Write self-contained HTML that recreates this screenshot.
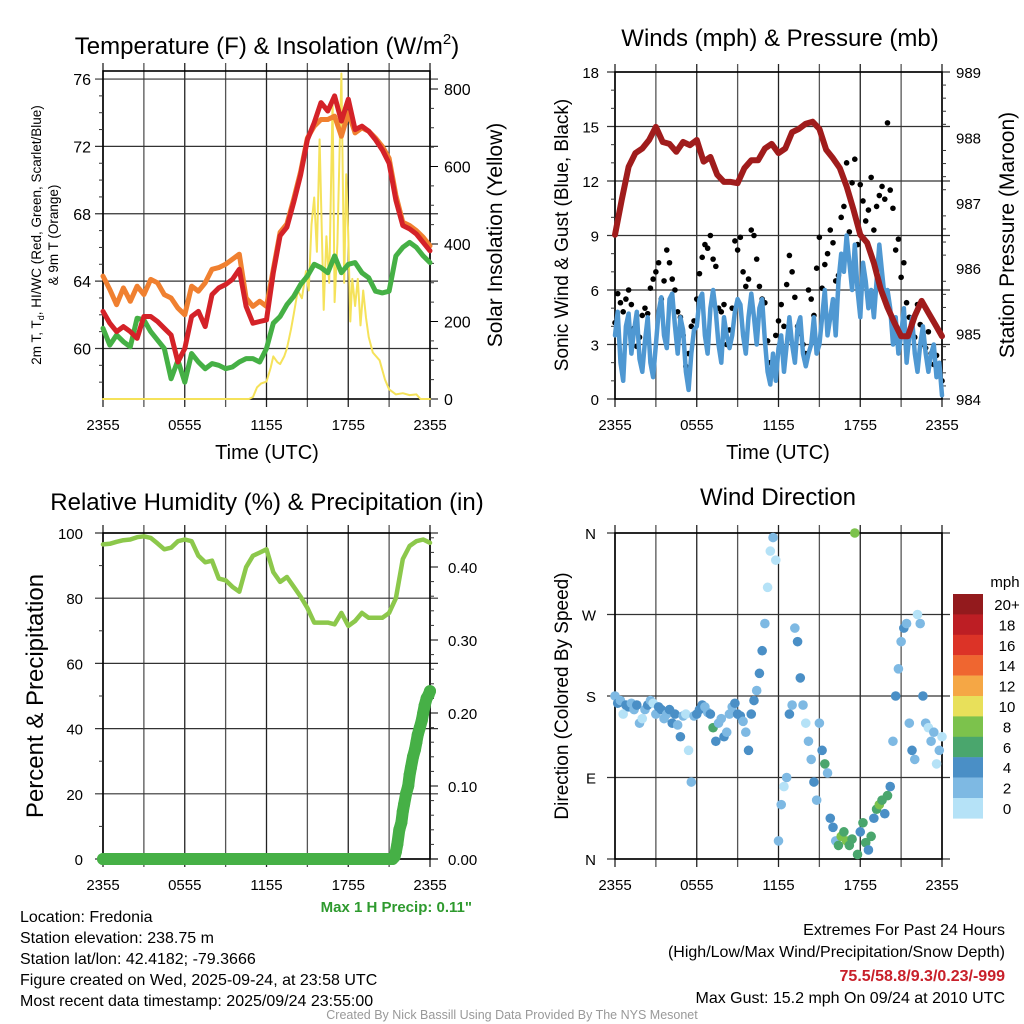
<!DOCTYPE html>
<html><head><meta charset="utf-8"><style>
html,body{margin:0;padding:0;background:#fff;}
svg{display:block;font-family:"Liberation Sans",sans-serif;}
.n{font-family:"Liberation Sans Narrow","Liberation Sans",sans-serif;}
</style></head><body>
<svg id="c" width="1024" height="1024" viewBox="0 0 1024 1024" xmlns="http://www.w3.org/2000/svg">
<g id="layer"></g>
<text x="267" y="54" font-size="24" text-anchor="middle">Temperature (F) &amp; Insolation (W/m<tspan font-size="15" dy="-10">2</tspan><tspan dy="10">)</tspan></text>
<text x="780" y="46" font-size="24" text-anchor="middle">Winds (mph) &amp; Pressure (mb)</text>
<text x="267" y="510" font-size="24" text-anchor="middle">Relative Humidity (%) &amp; Precipitation (in)</text>
<text x="778" y="505" font-size="24" text-anchor="middle">Wind Direction</text>
<text x="267" y="459" font-size="20" text-anchor="middle">Time (UTC)</text>
<text x="778" y="459" font-size="20" text-anchor="middle">Time (UTC)</text>
<text transform="translate(41,235) rotate(-90)" font-size="13.5" text-anchor="middle">2m T, T<tspan font-size="9" dy="3">d</tspan><tspan dy="-3">, HI/WC (Red, Green, Scarlet/Blue)</tspan></text>
<text transform="translate(58,235) rotate(-90)" font-size="13.5" text-anchor="middle">&amp; 9m T (Orange)</text>
<text transform="translate(502,235) rotate(-90)" font-size="21" text-anchor="middle">Solar Insolation (Yellow)</text>
<text transform="translate(568,235) rotate(-90)" font-size="19" text-anchor="middle">Sonic Wind &amp; Gust (Blue, Black)</text>
<text transform="translate(1014,235) rotate(-90)" font-size="21" text-anchor="middle">Station Pressure (Maroon)</text>
<text transform="translate(43,696) rotate(-90)" font-size="24" text-anchor="middle">Percent &amp; Precipitation</text>
<text transform="translate(568,696) rotate(-90)" font-size="19" text-anchor="middle">Direction (Colored By Speed)</text>
<text class="n" x="472" y="912" font-size="15" font-weight="bold" fill="#2e9a2e" text-anchor="end">Max 1 H Precip: 0.11"</text>
<g class="n" font-size="16">
<text x="20" y="922">Location: Fredonia</text>
<text x="20" y="943">Station elevation: 238.75 m</text>
<text x="20" y="964">Station lat/lon: 42.4182; -79.3666</text>
<text x="20" y="985">Figure created on Wed, 2025-09-24, at 23:58 UTC</text>
<text x="20" y="1006">Most recent data timestamp: 2025/09/24 23:55:00</text>
</g>
<g class="n" font-size="16" text-anchor="end">
<text x="1005" y="935">Extremes For Past 24 Hours</text>
<text x="1005" y="957">(High/Low/Max Wind/Precipitation/Snow Depth)</text>
<text x="1005" y="981" font-weight="bold" fill="#c8202a">75.5/58.8/9.3/0.23/-999</text>
<text x="1005" y="1003">Max Gust: 15.2 mph On 09/24 at 2010 UTC</text>
</g>
<text class="n" x="512" y="1019" font-size="12.5" fill="#999" text-anchor="middle">Created By Nick Bassill Using Data Provided By The NYS Mesonet</text>
</svg>
<script>
// ---- data ----
const xLabels = ["2355","0555","1155","1755","2355"];
const tempT = [62.2,61.5,61.0,61.3,61.0,60.6,61.9,61.9,61.6,61.2,60.8,59.2,60.0,61.9,62.2,61.3,63.2,63.6,63.8,64.1,64.7,62.5,61.5,61.6,61.7,64.5,66.7,67.2,68.7,70.3,72.4,73.4,74.6,74.1,75.0,73.5,74.8,73.0,73.2,72.9,72.4,71.8,71.0,68.8,67.3,67.1,66.8,66.3,65.8];
const temp9m = [64.3,63.5,62.6,63.6,62.8,63.7,63.2,64.1,63.9,63.2,63.0,62.4,62.0,63.7,63.4,63.9,64.7,64.8,65.0,65.3,65.6,63.0,62.5,62.8,62.5,64.7,66.9,67.4,68.9,70.5,72.5,73.2,73.6,73.6,73.8,72.6,74.0,72.8,73.1,72.9,72.5,72.0,71.3,69.1,67.5,67.3,67.0,66.6,66.1];
const dewT = [61.2,60.2,60.8,60.4,60.1,61.8,61.7,61.0,60.5,60.0,58.2,59.3,58.0,59.7,59.2,58.8,59.1,59.0,58.8,58.9,59.2,59.4,59.4,59.2,60.0,61.5,61.9,62.6,63.1,63.8,64.3,65.0,64.8,64.5,65.5,64.5,65.0,65.1,64.5,64.2,63.4,63.3,63.4,65.5,66.0,66.3,66.0,65.5,65.1];
const insolT = [0,10.7,11.0,11.3,11.6,12.0,12.3,12.5,12.8,13.0,13.3,13.5,13.8,14.0,14.3,14.6,14.9,15.1,15.3,15.5,15.7,15.9,16.2,16.4,16.6,16.85,17.0,17.2,17.5,17.7,17.85,18.0,18.15,18.3,18.5,18.7,18.9,19.1,19.3,19.5,19.8,20.3,20.7,21.0,21.5,22.0,22.5,23.0,23.3,24];
const insol = [0,0,5,30,40,45,80,110,95,90,110,130,180,220,280,260,330,280,450,520,380,670,230,420,300,770,250,400,840,300,580,420,200,310,240,310,190,280,210,160,120,100,50,25,12,15,10,12,0,0];
const pressure = [986.51,987.05,987.55,987.76,987.83,987.96,988.16,987.93,987.9,987.78,987.93,987.88,987.96,987.63,987.7,987.43,987.32,987.32,987.3,987.53,987.65,987.65,987.83,987.9,987.76,987.83,988.08,988.13,988.21,988.24,988.13,987.81,987.68,987.53,987.25,986.9,986.51,986.39,986.08,985.68,985.4,985.17,984.96,984.96,985.27,985.5,985.32,985.14,984.96];
const wind = [3.5,4.8,2.0,1.0,4.0,4.7,2.5,3.8,4.8,2.2,1.5,3.2,4.5,2.0,1.2,3.0,4.8,5.6,3.5,2.8,5.5,5.8,4.0,2.5,4.5,3.8,1.5,0.5,2.5,3.8,4.0,5.5,5.8,3.5,2.5,5.0,6.0,4.8,3.0,2.0,4.5,3.5,2.8,3.5,4.8,5.5,5.2,3.5,2.5,4.5,5.8,4.5,3.0,5.0,5.5,3.2,1.5,0.8,2.5,1.0,2.8,3.5,1.5,3.0,4.5,3.0,2.0,4.0,4.5,2.5,1.8,2.5,3.0,4.5,2.5,3.0,4.5,6.0,3.5,4.5,5.5,3.5,6.5,8.0,7.0,9.0,7.5,6.0,8.5,6.0,4.5,7.5,6.5,5.0,6.0,4.5,6.5,8.5,7.0,5.5,6.0,5.0,3.0,4.5,2.5,3.5,5.0,2.0,3.5,4.5,2.5,1.5,3.0,4.0,2.5,1.5,2.5,3.0,1.2,2.0,0.2];
const gust = [4.2,5.8,5.3,4.8,5.5,6.0,5.2,3.9,2.9,3.4,4.6,5.0,4.7,6.1,6.6,7.0,7.5,5.5,6.5,8.2,7.5,6.6,6.0,4.8,4.5,3.5,1.8,2.5,4.0,4.3,5.5,6.9,7.8,8.5,8.3,9.0,7.7,7.3,5.0,4.8,5.2,3.0,3.8,5.0,8.7,8.2,8.9,7.0,6.2,6.6,9.3,9.0,7.7,6.2,5.5,5.3,3.2,2.0,1.7,3.5,4.3,5.2,4.0,6.3,7.9,7.0,5.6,4.0,3.6,3.0,2.5,6.0,5.5,4.6,7.2,8.9,6.1,7.4,8.0,9.3,8.6,6.5,6.8,10.0,10.6,13.0,9.2,11.9,13.2,8.5,11.8,10.9,9.8,10.4,12.2,9.3,10.6,11.2,11.7,11.0,15.2,11.5,10.5,8.2,8.8,6.7,7.5,5.3,4.5,4.2,3.4,5.2,4.1,3.0,2.8,3.7,2.5,1.9,2.4,1.4,1.0];
const direction = [180,172,175,160,170,168,172,165,170,150,155,165,170,175,172,160,168,165,155,160,165,150,160,148,135,158,160,120,85,158,160,165,170,168,162,160,145,130,150,155,135,140,160,168,172,160,158,152,140,120,160,175,186,205,230,260,300,340,355,330,20,60,80,90,160,170,255,240,200,170,150,130,110,85,65,150,120,105,95,45,35,20,15,25,30,20,15,22,360,5,30,40,18,10,25,45,55,60,65,50,70,80,130,180,210,240,255,260,150,120,110,270,260,180,150,145,130,140,105,120,135];
const rh = [96.5,96.7,97.3,97.8,98.0,98.7,99.0,98.5,96.8,95.0,95.5,97.5,98.0,97.5,93.0,91.0,91.5,86.0,85.5,83.5,82.0,89.5,93.0,94.0,95.0,88.0,85.0,86.5,83.5,80.5,77.0,72.5,72.5,72.5,72.0,75.5,71.5,73.0,75.5,74.0,74.0,74.0,75.5,80.0,92.0,96.0,97.5,98.0,97.0];
const precipT = [0,0.5,1,1.5,2,2.5,3,3.5,4,4.5,5,5.5,6,6.5,7,7.5,8,8.5,9,9.5,10,10.5,11,11.5,12,12.5,13,13.5,14,14.5,15,15.5,16,16.5,17,17.5,18,18.5,19,19.5,20,20.5,21,21.25,21.4,21.5,21.6,21.75,21.9,22.0,22.1,22.25,22.4,22.5,22.6,22.75,22.9,23.0,23.1,23.25,23.4,23.5,23.6,23.75,23.9,24.0];
const precip = [0,0,0,0,0,0,0,0,0,0,0,0,0,0,0,0,0,0,0,0,0,0,0,0,0,0,0,0,0,0,0,0,0,0,0,0,0,0,0,0,0,0,0,0,0.003,0.01,0.02,0.04,0.05,0.065,0.075,0.09,0.10,0.115,0.125,0.14,0.15,0.16,0.17,0.18,0.19,0.20,0.21,0.22,0.225,0.23];
const cbLabels = ["20+","18","16","14","12","10","8","6","4","2","0"];
const cbColors = ["#931a1d","#bd1e24","#dc3327","#ef6630","#f5a745","#e8e05a","#7cc24c","#4aa66d","#4a8fc6","#7eb9e3","#b5e2f7"];
// ---- helpers ----
const NS="http://www.w3.org/2000/svg";
const layer=document.getElementById('layer');
function mk(tag,attrs,parent){const e=document.createElementNS(NS,tag);for(const k in attrs)e.setAttribute(k,attrs[k]);(parent||layer).appendChild(e);return e;}
function lin(d0,d1,r0,r1){return v=>r0+(v-d0)/(d1-d0)*(r1-r0);}
function txt(x,y,s,anchor,size,parent,name){const t=mk('text',{x:x,y:y,'font-size':size,'text-anchor':anchor,class:'n'},parent);t.textContent=s;


return t;}
function polyline(xs,ys,color,w,name){let d='';for(let i=0;i<xs.length;i++)d+=(i?'L':'M')+xs[i].toFixed(1)+','+ys[i].toFixed(1);
const p=mk('path',{d:d,fill:'none',stroke:color,'stroke-width':w,'stroke-linejoin':'round','stroke-linecap':'round'});


return p;}
function frame(x0,x1,y0,y1,hTicks,name,labOff){
 const g=mk('g',{});
 
 
 for(let i=0;i<=8;i++){const x=x0+(x1-x0)*i/8;mk('line',{x1:x,x2:x,y1:y0-8,y2:y1+8,stroke:i%2?'#555':'#222','stroke-width':1.3},g);}
 hTicks.forEach(y=>mk('line',{x1:x0-8,x2:x1+8,y1:y,y2:y,stroke:'#333','stroke-width':1.2},g));
 mk('rect',{x:x0,y:y0,width:x1-x0,height:y1-y0,fill:'none',stroke:'#000','stroke-width':1.6},g);
 xLabels.forEach((s,i)=>txt(x0+(x1-x0)*i/4,y1+labOff,s,'middle',15,g,'x-tick-label'));
 return g;}
function minor(x,vals,ysc,dir,g){vals.forEach(v=>mk('line',{x1:x,x2:x+dir*4,y1:ysc(v),y2:ysc(v),stroke:'#333','stroke-width':1},g));}
const hr=(i,step)=>i*step;
// ---- Panel 1 ----
{const x0=103,x1=430,y0=71,y1=399;const X=lin(0,24,x0,x1);const Y=lin(57,76.5,y1,y1-19.5*16.84);const YI=lin(0,800,y1,89);
 const g=frame(x0,x1,y0,y1,[60,64,68,72,76].map(Y),'temp-panel',31);
 [60,64,68,72,76].forEach(v=>txt(x0-12,Y(v)+6,v,'end',16,g,'temp-tick'));
 [0,200,400,600,800].forEach(v=>{mk('line',{x1:x1,x2:x1+8,y1:YI(v),y2:YI(v),stroke:'#000'},g);txt(x1+14,YI(v)+6,v,'start',16,g,'insolation-tick');});
 minor(x0,[58,59,61,62,63,65,66,67,69,70,71,73,74,75],Y,-1,g);
 minor(x1,[50,100,150,250,300,350,450,500,550,650,700,750],YI,1,g);
 polyline(insolT.map(X),insol.map(YI),'#f5e25a',2,'insolation-line');
 polyline(dewT.map((v,i)=>X(hr(i,0.5))),dewT.map(Y),'#45b045',5,'dewpoint-line');
 polyline(temp9m.map((v,i)=>X(hr(i,0.5))),temp9m.map(Y),'#f08030',5,'temp-9m-line');
 polyline(tempT.map((v,i)=>X(hr(i,0.5))),tempT.map(Y),'#d42228',5,'temp-2m-line');
}
// ---- Panel 2 ----
{const x0=615,x1=942,y0=72,y1=399;const X=lin(0,24,x0,x1);const Y=lin(0,18,y1,y0);const YP=lin(984,989,y1,y0);
 const g=frame(x0,x1,y0,y1,[0,3,6,9,12,15,18].map(Y),'wind-panel',31);
 [0,3,6,9,12,15,18].forEach(v=>txt(x0-16,Y(v)+6,v,'end',15,g,'wind-tick'));
 [984,985,986,987,988,989].forEach(v=>txt(x1+14,YP(v)+6,v,'start',15,g,'pressure-tick'));
 minor(x0,[1,2,4,5,7,8,10,11,13,14,16,17],Y,-1,g);
 const pm=[];for(let k=1;k<25;k++)if(k%5)pm.push(984+k*0.2);minor(x1,pm,YP,1,g);
 polyline(wind.map((v,i)=>X(hr(i,0.2))),wind.map(Y),'#4f98d2',4.5,'wind-line');
 gust.forEach((v,i)=>{const c=mk('circle',{cx:X(hr(i,0.2)),cy:Y(v),r:2.8,fill:'#000'},g);
  
  });
 polyline(pressure.map((v,i)=>X(hr(i,0.5))),pressure.map(YP),'#a01c1c',6,'pressure-line');
}
// ---- Panel 3 ----
{const x0=103,x1=430,y0=533,y1=859;const X=lin(0,24,x0,x1);const Y=lin(0,100,y1,y0);const YR=lin(0,0.4,y1,567);
 const g=frame(x0,x1,y0,y1,[0,20,40,60,80,100].map(Y),'rh-panel',31);
 [0,20,40,60,80,100].forEach(v=>txt(x0-20,Y(v)+6,v,'end',15,g,'rh-tick'));
 [0,0.1,0.2,0.3,0.4].forEach(v=>{mk('line',{x1:x1,x2:x1+8,y1:YR(v),y2:YR(v),stroke:'#000'},g);txt(x1+18,YR(v)+6,v.toFixed(2),'start',15,g,'precip-tick');});
 minor(x0,[10,30,50,70,90],Y,-1,g);
 const prm=[];for(let k=1;k<23;k++)if(k%5)prm.push(k*0.02);minor(x1,prm,YR,1,g);
 polyline(rh.map((v,i)=>X(hr(i,0.5))),rh.map(Y),'#8cc84b',4.5,'rh-line');
 precip.forEach((v,i)=>{const c=mk('circle',{cx:X(precipT[i]),cy:YR(v),r:6,fill:'#46b046'},g);
  
  });
 polyline(precipT.map(X),precip.map(YR),'#46b046',12,'precip-line');
}
// ---- Panel 4 ----
{const x0=615,x1=942,y0=533,y1=859;const X=lin(0,24,x0,x1);const Y=lin(0,360,y1,y0);
 const g=frame(x0,x1,y0,y1,[0,90,180,270,360].map(Y),'direction-panel',31);
 ["N","E","S","W","N"].forEach((s,i)=>txt(x0-19,Y(i*90)+6,s,'end',15,g,'direction-tick'));
 direction.forEach((v,i)=>{const b=Math.max(0,Math.min(10,Math.floor(wind[i]/2)));
  const c=mk('circle',{cx:X(hr(i,0.2)),cy:Y(v),r:4.8,fill:cbColors[10-b]},g);
  
  });
 const cb=mk('g',{});
 
 
 txt(1005,587,'mph','middle',15,cb,'colorbar-title');
 cbColors.forEach((col,i)=>{mk('rect',{x:953,y:594+i*20.4,width:30,height:20.6,fill:col},cb);txt(1007,594+i*20.4+16,cbLabels[i],'middle',15,cb,'colorbar-label');});
}
</script>
</body></html>
